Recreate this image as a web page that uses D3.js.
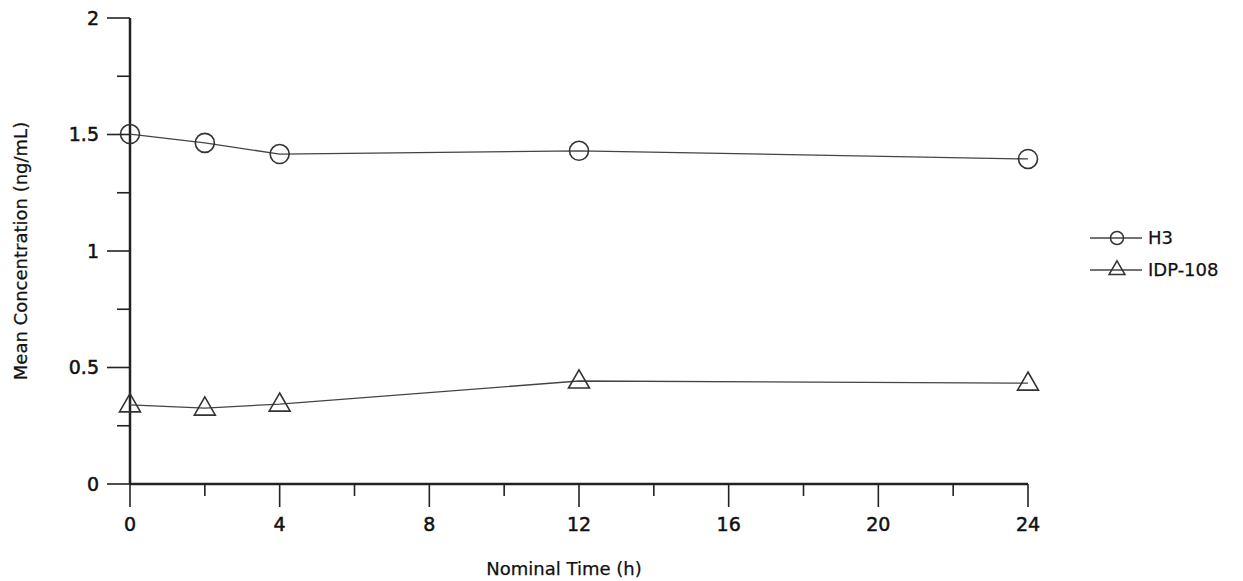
<!DOCTYPE html>
<html>
<head>
<meta charset="utf-8">
<script src="https://cdn.jsdelivr.net/npm/d3@7"></script>
<style>
  body { margin: 0; background: #fff; }
  text { font-family: "DejaVu Sans", Verdana, sans-serif; fill: #111; }
  .ylab, .xlab { stroke: #111; stroke-width: 0.5px; }
  .title, .legend text { stroke: #111; stroke-width: 0.25px; }
</style>
</head>
<body>
<script>
// Nominal sampling times (h)
var times = [0, 2, 4, 12, 24];
// Mean concentrations (ng/mL)
var h3Values = [1.502, 1.464, 1.416, 1.430, 1.395];
var idpValues = [0.340, 0.326, 0.343, 0.442, 0.433];
var seriesNames = ["H3", "IDP-108"];
var xTickValues = [0, 4, 8, 12, 16, 20, 24];
var yTickLabels = ["0", "0.5", "1", "1.5", "2"];

var width = 1243,
    height = 581;

var svg = d3.select("body")
    .append("svg")
    .attr("width", width)
    .attr("height", height);

var x = d3.scaleLinear().domain([0, 24]).range([130, 1028]);
var y = d3.scaleLinear().domain([0, 2]).range([484, 18]);

// Axis lines
svg.append("line")
    .attr("x1", x(0)).attr("x2", x(0))
    .attr("y1", y(2)).attr("y2", y(0))
    .style("stroke", "#222").style("stroke-width", 2.5);
svg.append("line")
    .attr("x1", x(0)).attr("x2", x(24))
    .attr("y1", y(0)).attr("y2", y(0))
    .style("stroke", "#222").style("stroke-width", 2.5);

// Y ticks: major every 0.5, minor halfway between
d3.range(0, 2.01, 0.25).forEach(function(v, i) {
    var major = i % 2 == 0;
    svg.append("line")
        .attr("x1", x(0) - (major ? 23 : 13)).attr("x2", x(0))
        .attr("y1", y(v)).attr("y2", y(v))
        .style("stroke", "#222").style("stroke-width", 1.6);
});
svg.selectAll(".ylab")
    .data(yTickLabels)
    .enter().append("text")
    .attr("class", "ylab")
    .attr("x", 99)
    .attr("y", function(d) { return y(+d); })
    .attr("dy", "0.36em")
    .style("text-anchor", "end")
    .style("font-size", "19px")
    .text(function(d) { return d; });

// X ticks: major every 4 h, minor every 2 h
d3.range(0, 24.01, 2).forEach(function(v) {
    var major = v % 4 == 0;
    svg.append("line")
        .attr("x1", x(v)).attr("x2", x(v))
        .attr("y1", y(0)).attr("y2", y(0) + (major ? 23 : 12))
        .style("stroke", "#222").style("stroke-width", 1.6);
});
svg.selectAll(".xlab")
    .data(xTickValues)
    .enter().append("text")
    .attr("class", "xlab")
    .attr("x", function(d) { return x(d); })
    .attr("y", 531)
    .style("text-anchor", "middle")
    .style("font-size", "19px")
    .text(function(d) { return d; });

// Axis titles
svg.append("text")
    .attr("class", "title")
    .attr("x", x(11.6))
    .attr("y", 575)
    .style("text-anchor", "middle")
    .style("font-size", "18px")
    .text("Nominal Time (h)");
svg.append("text")
    .attr("class", "title")
    .attr("transform", "translate(27," + y(1) + ") rotate(-90)")
    .style("text-anchor", "middle")
    .style("font-size", "18px")
    .text("Mean Concentration (ng/mL)");

var line = d3.line()
    .x(function(d) { return x(d[0]); })
    .y(function(d) { return y(d[1]); });

var h3 = d3.zip(times, h3Values),
    idp = d3.zip(times, idpValues);

[h3, idp].forEach(function(s) {
    svg.append("path")
        .attr("d", line(s))
        .style("fill", "none")
        .style("stroke", "#444")
        .style("stroke-width", 1.3);
});

var circle = d3.symbol().type(d3.symbolCircle).size(Math.PI * 9.5 * 9.5);
var triangle = d3.symbol().type(d3.symbolTriangle).size(190);

svg.selectAll(".h3pt")
    .data(h3)
    .enter().append("path")
    .attr("class", "h3pt")
    .attr("transform", function(d) { return "translate(" + x(d[0]) + "," + y(d[1]) + ")"; })
    .attr("d", circle)
    .style("fill", "none").style("stroke", "#333").style("stroke-width", 1.6);

svg.selectAll(".idppt")
    .data(idp)
    .enter().append("path")
    .attr("class", "idppt")
    .attr("transform", function(d) { return "translate(" + x(d[0]) + "," + (y(d[1]) + 1) + ")"; })
    .attr("d", triangle)
    .style("fill", "none").style("stroke", "#333").style("stroke-width", 1.6);

// Legend
var legend = svg.selectAll(".legend")
    .data(seriesNames)
    .enter().append("g")
    .attr("class", "legend")
    .attr("transform", function(d, i) { return "translate(1090," + (238 + i * 32) + ")"; });

legend.append("line")
    .attr("x1", 0).attr("x2", 52)
    .style("stroke", "#444").style("stroke-width", 1.3);
legend.append("path")
    .attr("transform", "translate(27,0)")
    .attr("d", function(d, i) {
        return i == 0 ? d3.symbol().type(d3.symbolCircle).size(Math.PI * 6.5 * 6.5)()
                      : d3.symbol().type(d3.symbolTriangle).size(110)();
    })
    .style("fill", "none").style("stroke", "#333").style("stroke-width", 1.5);
legend.append("text")
    .attr("x", 58)
    .attr("dy", "0.36em")
    .style("font-size", "18px")
    .text(function(d) { return d; });
</script>
</body>
</html>
